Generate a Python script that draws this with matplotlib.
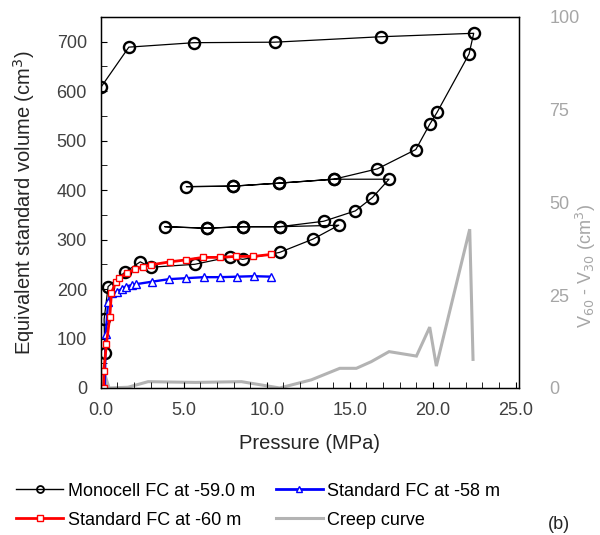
import matplotlib.pyplot as plt
from matplotlib.lines import Line2D
from matplotlib.ticker import MultipleLocator, FormatStrFormatter

plt.rcParams["font.family"] = ["Liberation Sans", "DejaVu Sans"]

# Monocell FC at -59.0 m (loading / unloading cycles, in test order)
mono_p = [0.24, 0.20, 0.44, 1.45, 2.38, 3.01, 5.66, 7.80, 8.55, 10.77, 12.79, 14.34,
          10.77, 8.55, 6.4, 3.86, 6.4, 8.55, 10.77, 13.43,
          15.34, 16.37, 17.37,
          14.05, 10.71, 7.97, 5.16, 7.97, 10.71, 14.05,
          16.67, 18.98, 19.82, 20.26, 22.19, 22.47,
          16.87, 10.48, 5.62, 1.69, 0.03]
mono_v = [70, 139, 205, 234, 255, 244, 250, 265, 260, 274, 301, 329,
          326, 326, 323, 326, 323, 326, 326, 337,
          358, 385, 422,
          422, 414, 408, 407, 408, 414, 422,
          443, 482, 533, 557, 675, 717,
          710, 699, 698, 689, 609]

# Standard FC at -58 m
std58_p = [0.24, 0.30, 0.44, 0.70, 0.98, 1.25, 1.51, 1.85, 2.15, 3.11, 4.11,
           5.16, 6.20, 7.21, 8.21, 9.22, 10.28]
std58_v = [0, 110, 174, 191, 195, 200, 205, 208, 210, 215, 220,
           222, 224, 224, 225, 226, 225]

# Standard FC at -60 m
std60_p = [0.18, 0.18, 0.34, 0.54, 0.64, 0.90, 1.10, 1.55, 2.05, 2.55, 3.05,
           4.16, 5.16, 6.16, 7.17, 8.17, 9.20, 10.28]
std60_v = [0, 35, 89, 144, 191, 215, 222, 232, 240, 245, 249,
           255, 259, 264, 264, 266, 266, 270]

# Creep curve (right axis)
creep_p = [0.15, 0.25, 0.5, 1.64, 2.85, 5.7, 8.48, 10.78, 12.69, 14.4, 15.4,
           16.3, 17.37, 19.02, 19.82, 20.22, 22.23, 22.43]
creep_c = [0, 3.5, 0, 0.2, 1.7, 1.5, 1.7, 0, 2.2, 5.3, 5.3,
           7.1, 9.8, 8.6, 16.4, 5.9, 42.8, 7.7]

tick_col = "#404040"
creep_col = "#b3b3b3"
fs_tick = 13
fs_lab = 14.5

fig = plt.figure(figsize=(6.0, 5.35), dpi=100)
ax = fig.add_axes([0.168, 0.2748, 0.697, 0.6935])
ax2 = ax.twinx()

ax2.plot(creep_p, creep_c, color=creep_col, lw=2.2, solid_joinstyle="miter")
ax2.set_ylim(0, 100)
ax2.set_yticks([0, 25, 50, 75, 100])
ax2.tick_params(axis="y", length=0, labelsize=fs_tick, labelcolor="#a6a6a6", pad=22)
ax2.set_ylabel("V$_{60}$ - V$_{30}$ (cm$^3$)", color="#a6a6a6", fontsize=fs_tick)
ax2.yaxis.set_label_coords(1.132, 0.33)

ax.set_zorder(ax2.get_zorder() + 1)
ax.patch.set_visible(False)

ax.plot(mono_p, mono_v, color="black", lw=0.9, marker="o", ms=8,
        mfc="none", mec="black", mew=1.7)
ax.plot(std58_p, std58_v, color="blue", lw=1.7, marker="^", ms=5.5,
        mfc="white", mec="blue", mew=1.0)
ax.plot(std60_p, std60_v, color="red", lw=2.0, marker="s", ms=5,
        mfc="white", mec="red", mew=1.0)

ax.set_xlim(0, 25.2)
ax.set_ylim(0, 750)
ax.xaxis.set_major_locator(MultipleLocator(5))
ax.xaxis.set_minor_locator(MultipleLocator(1))
ax.xaxis.set_major_formatter(FormatStrFormatter("%.1f"))
ax.yaxis.set_major_locator(MultipleLocator(100))
ax.yaxis.set_minor_locator(MultipleLocator(50))
ax.tick_params(axis="both", which="both", direction="in", length=4,
               labelsize=fs_tick, labelcolor=tick_col)
ax.tick_params(axis="x", which="major", pad=10)
ax.tick_params(axis="y", which="major", pad=10)
for sp in ax.spines.values():
    sp.set_linewidth(1.0)

ax.set_xlabel("Pressure (MPa)", fontsize=fs_lab, color="#262626", labelpad=11)
ax.set_ylabel("Equivalent standard volume (cm$^3$)", fontsize=fs_lab,
              color="#262626", labelpad=14)

handles = [
    Line2D([], [], color="black", lw=1.0, marker="o", ms=5, mfc="none", mew=1.3),
    Line2D([], [], color="red", lw=2.0, marker="s", ms=4, mfc="white", mew=1.0),
    Line2D([], [], color="blue", lw=2.0, marker="^", ms=4, mfc="white", mew=1.0),
    Line2D([], [], color=creep_col, lw=2.2),
]
labels = ["Monocell FC at -59.0 m", "Standard FC at -60 m",
          "Standard FC at -58 m", "Creep curve"]
fig.legend(handles, labels, ncol=2, loc="upper left",
           bbox_to_anchor=(0.0, 0.128), frameon=False,
           fontsize=fs_tick, handlelength=2.6, handletextpad=0.25,
           columnspacing=1.15, labelspacing=0.65)

fig.text(0.913, 0.012, "(b)", fontsize=fs_tick, color="#262626")

fig.savefig("out.png", dpi=100)
